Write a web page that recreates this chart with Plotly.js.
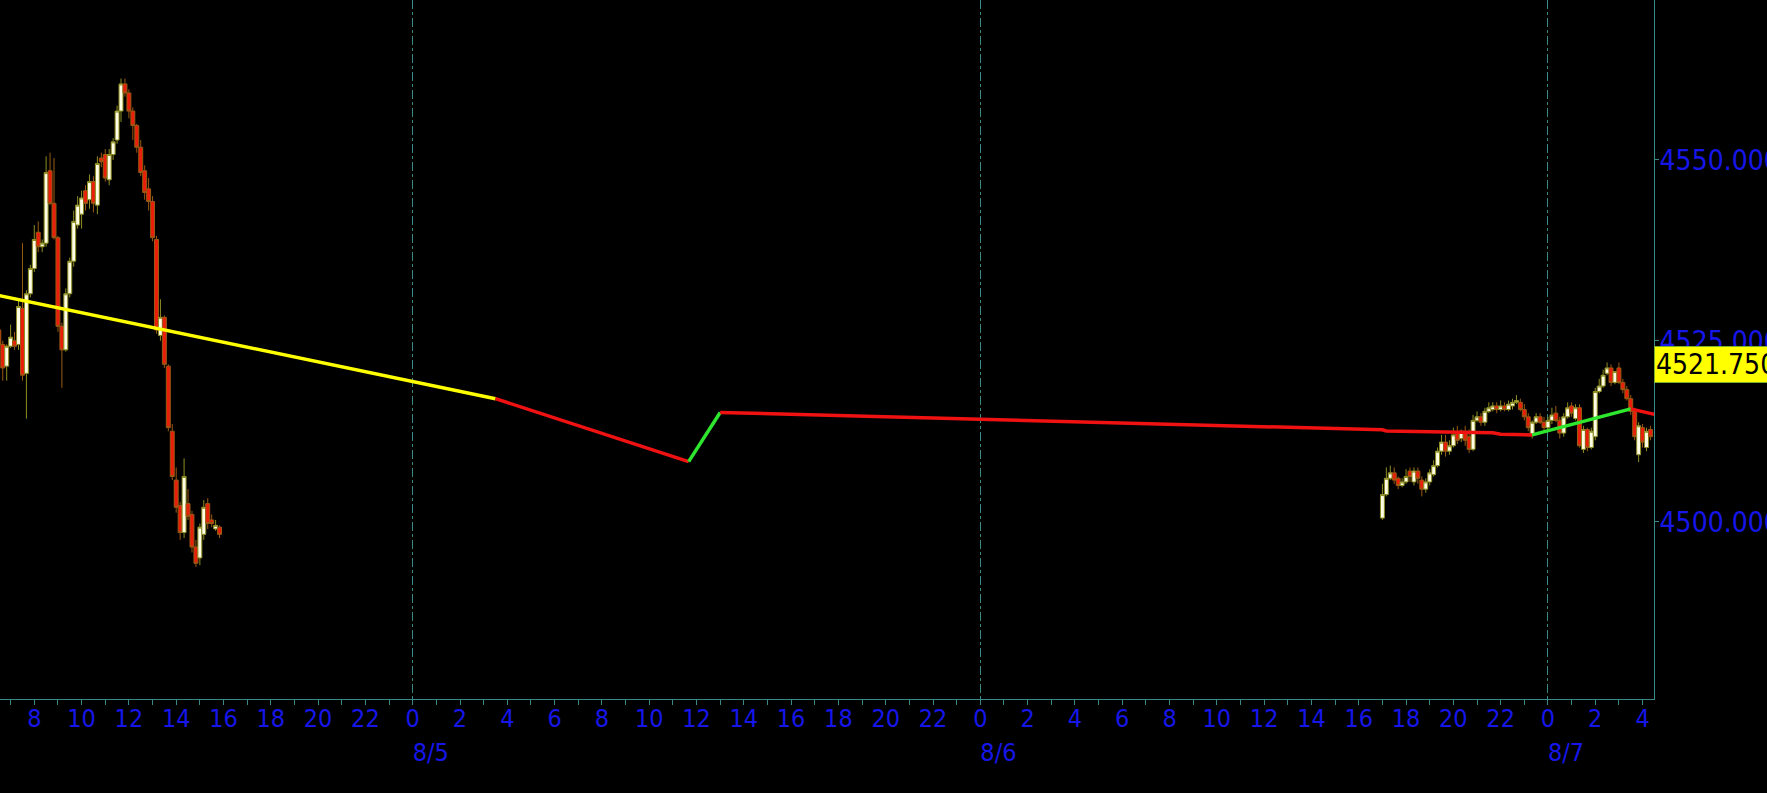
<!DOCTYPE html>
<html><head><meta charset="utf-8">
<script src="https://cdn.plot.ly/plotly-3.0.1.min.js"></script>
<style>html,body{margin:0;padding:0;background:#000;overflow:hidden}#chart{width:1767px;height:793px}</style>
</head><body><div id="chart"></div>
<script>
// ---- 10-minute bars (ES futures), Fri 8/4 day session and Sun 8/6 evening -> Mon 8/7 ----
const barTime = [
'2023-08-04 06:30','2023-08-04 06:40','2023-08-04 06:50','2023-08-04 07:00','2023-08-04 07:10','2023-08-04 07:20','2023-08-04 07:30','2023-08-04 07:40','2023-08-04 07:50',
'2023-08-04 08:00','2023-08-04 08:10','2023-08-04 08:20','2023-08-04 08:30','2023-08-04 08:40','2023-08-04 08:50',
'2023-08-04 09:00','2023-08-04 09:10','2023-08-04 09:20','2023-08-04 09:30','2023-08-04 09:40','2023-08-04 09:50',
'2023-08-04 10:00','2023-08-04 10:10','2023-08-04 10:20','2023-08-04 10:30','2023-08-04 10:40','2023-08-04 10:50',
'2023-08-04 11:00','2023-08-04 11:10','2023-08-04 11:20','2023-08-04 11:30','2023-08-04 11:40','2023-08-04 11:50',
'2023-08-04 12:00','2023-08-04 12:10','2023-08-04 12:20','2023-08-04 12:30','2023-08-04 12:40','2023-08-04 12:50',
'2023-08-04 13:00','2023-08-04 13:10','2023-08-04 13:20','2023-08-04 13:30','2023-08-04 13:40','2023-08-04 13:50',
'2023-08-04 14:00','2023-08-04 14:10','2023-08-04 14:20','2023-08-04 14:30','2023-08-04 14:40','2023-08-04 14:50',
'2023-08-04 15:00','2023-08-04 15:10','2023-08-04 15:20','2023-08-04 15:30','2023-08-04 15:40','2023-08-04 15:50',
'2023-08-06 17:00','2023-08-06 17:10','2023-08-06 17:20','2023-08-06 17:30','2023-08-06 17:40','2023-08-06 17:50',
'2023-08-06 18:00','2023-08-06 18:10','2023-08-06 18:20','2023-08-06 18:30','2023-08-06 18:40','2023-08-06 18:50',
'2023-08-06 19:00','2023-08-06 19:10','2023-08-06 19:20','2023-08-06 19:30','2023-08-06 19:40','2023-08-06 19:50',
'2023-08-06 20:00','2023-08-06 20:10','2023-08-06 20:20','2023-08-06 20:30','2023-08-06 20:40','2023-08-06 20:50',
'2023-08-06 21:00','2023-08-06 21:10','2023-08-06 21:20','2023-08-06 21:30','2023-08-06 21:40','2023-08-06 21:50',
'2023-08-06 22:00','2023-08-06 22:10','2023-08-06 22:20','2023-08-06 22:30','2023-08-06 22:40','2023-08-06 22:50',
'2023-08-06 23:00','2023-08-06 23:10','2023-08-06 23:20','2023-08-06 23:30','2023-08-06 23:40','2023-08-06 23:50',
'2023-08-07 00:00','2023-08-07 00:10','2023-08-07 00:20','2023-08-07 00:30','2023-08-07 00:40','2023-08-07 00:50',
'2023-08-07 01:00','2023-08-07 01:10','2023-08-07 01:20','2023-08-07 01:30','2023-08-07 01:40','2023-08-07 01:50',
'2023-08-07 02:00','2023-08-07 02:10','2023-08-07 02:20','2023-08-07 02:30','2023-08-07 02:40','2023-08-07 02:50',
'2023-08-07 03:00','2023-08-07 03:10','2023-08-07 03:20','2023-08-07 03:30','2023-08-07 03:40','2023-08-07 03:50',
'2023-08-07 04:00','2023-08-07 04:10','2023-08-07 04:20'
];
const barOpen = [
4526.50,4524.50,4521.50,4524.25,4525.00,4524.50,4529.50,4520.50,4531.50,4535.00,4540.00,4538.00,4538.50,4548.50,4544.00,4539.25,4527.00,4523.75,4531.50,4536.00,4541.00,4542.50,4545.75,4544.50,4547.00,4543.75,4550.25,4550.75,4547.25,4550.75,4552.75,4556.75,4560.50,4559.25,4556.75,4554.75,4551.75,4548.50,4546.00,4544.25,4539.00,4525.75,4528.25,4521.50,4512.50,4505.75,4502.25,4498.50,4502.50,4501.00,4496.50,4495.00,4498.25,4502.50,4500.25,4499.00,4499.25,
4500.50,4503.75,4506.00,4506.75,4506.00,4505.00,4505.50,4507.00,4505.50,4507.00,4505.75,4504.50,4505.50,4506.50,4507.75,4509.75,4511.00,4509.75,4510.50,4512.25,4511.50,4512.50,4511.75,4510.00,4514.00,4514.50,4513.75,4515.25,4515.50,4516.00,4515.50,4516.00,4515.50,4516.00,4516.50,4516.50,4515.50,4514.50,4512.00,4513.75,4514.50,4513.75,4513.00,4514.00,4515.00,4514.00,4512.25,4514.50,4516.00,4514.25,4515.75,4510.00,4512.75,4510.25,4511.75,4518.00,4518.75,4520.50,4521.25,4519.25,4521.25,4519.25,4518.25,4517.00,4515.25,4509.25,4513.00,4510.25,4512.75
];
const barHigh = [
4527.25,4525.00,4524.50,4527.25,4526.25,4530.75,4538.50,4532.00,4535.50,4541.00,4541.50,4539.00,4550.50,4551.00,4550.25,4539.50,4527.50,4532.25,4536.50,4543.00,4545.00,4545.75,4546.50,4548.00,4547.75,4550.50,4551.00,4551.50,4551.50,4553.00,4557.50,4561.25,4561.25,4559.75,4557.25,4555.00,4552.75,4549.25,4547.50,4545.00,4539.50,4530.75,4528.50,4521.75,4513.50,4507.50,4502.75,4508.75,4504.50,4501.50,4497.50,4499.75,4503.00,4503.25,4501.00,4500.25,4499.50,
4505.25,4507.50,4507.75,4507.50,4506.25,4506.00,4507.25,4507.50,4507.50,4507.50,4506.25,4506.00,4507.25,4508.50,4510.25,4512.00,4512.00,4511.25,4513.00,4513.25,4512.75,4513.25,4512.75,4514.75,4515.25,4515.00,4515.75,4516.50,4516.50,4516.50,4516.75,4516.50,4516.75,4517.00,4517.50,4517.00,4516.25,4515.00,4514.00,4515.00,4515.00,4514.50,4514.50,4515.75,4516.00,4514.50,4515.00,4516.50,4516.50,4516.25,4516.25,4513.25,4513.00,4513.00,4518.50,4519.75,4521.00,4522.00,4521.75,4520.75,4522.00,4519.75,4518.75,4517.50,4515.75,4513.75,4513.50,4513.00,4513.25
];
const barLow = [
4524.00,4519.50,4519.50,4524.00,4523.75,4523.75,4519.50,4514.25,4531.00,4534.50,4537.25,4537.25,4538.00,4543.75,4539.00,4526.25,4518.50,4523.50,4531.00,4535.25,4540.50,4540.50,4543.00,4543.25,4542.75,4542.50,4549.00,4547.00,4546.50,4550.00,4552.25,4555.25,4558.75,4555.75,4552.75,4551.00,4547.75,4544.50,4543.00,4538.75,4526.00,4525.00,4521.25,4512.50,4505.75,4501.25,4497.50,4497.75,4500.25,4495.75,4493.75,4494.00,4497.50,4499.00,4499.25,4498.75,4497.75,
4500.25,4503.50,4505.75,4505.25,4504.50,4504.75,4505.25,4505.50,4505.00,4505.25,4503.50,4504.00,4505.00,4506.25,4507.50,4509.25,4509.00,4509.25,4510.25,4510.75,4511.00,4510.50,4509.50,4509.75,4513.75,4513.25,4513.25,4515.00,4515.25,4515.00,4515.25,4515.25,4515.25,4515.50,4516.25,4515.25,4514.00,4512.50,4511.50,4513.50,4513.50,4512.50,4512.50,4513.50,4513.75,4511.50,4511.75,4514.25,4514.50,4514.00,4510.25,4509.50,4509.75,4510.00,4511.25,4517.75,4518.50,4520.25,4518.75,4519.00,4519.00,4517.75,4516.75,4514.75,4511.25,4508.25,4510.25,4509.75,4511.25
];
const barClose = [
4524.50,4521.25,4524.25,4525.50,4524.25,4529.75,4520.25,4531.50,4535.00,4539.00,4538.00,4538.50,4548.25,4544.00,4539.25,4527.00,4523.75,4531.50,4536.00,4541.50,4543.75,4544.75,4544.00,4547.00,4544.00,4549.50,4549.75,4547.50,4550.75,4552.50,4556.75,4560.50,4559.25,4556.75,4554.75,4551.75,4548.25,4545.50,4544.25,4539.25,4526.50,4528.25,4521.75,4513.00,4506.25,4502.00,4498.50,4506.25,4500.75,4496.50,4494.25,4499.25,4502.00,4499.75,4499.75,4499.50,4498.25,
4503.75,4506.00,4506.75,4505.75,4505.00,4505.50,4506.25,4506.25,4507.00,4506.00,4504.50,4505.50,4506.75,4507.75,4509.75,4511.00,4509.75,4510.50,4512.00,4511.25,4512.50,4511.25,4510.00,4514.00,4514.50,4513.75,4515.25,4515.75,4516.00,4515.50,4516.00,4515.50,4516.25,4516.50,4516.75,4515.50,4514.50,4513.00,4513.75,4514.50,4513.75,4513.00,4514.00,4514.75,4514.00,4512.25,4514.50,4515.75,4515.00,4515.75,4510.50,4512.75,4510.25,4512.50,4518.00,4518.75,4520.25,4521.25,4519.25,4520.75,4519.25,4518.25,4517.00,4515.25,4511.75,4513.25,4511.00,4512.50,4511.75
];

// ---- trend line (vertices) and the colour of the segment that starts at each vertex ----
const maTime = ['2023-08-04 06:30','2023-08-05 03:30','2023-08-05 11:40','2023-08-05 13:00','2023-08-06 17:00','2023-08-06 17:10','2023-08-06 19:20','2023-08-06 19:40','2023-08-06 21:40','2023-08-06 22:00','2023-08-06 23:20','2023-08-07 03:30','2023-08-07 04:30'];
const maValue = [4531.25,4517.0,4508.3,4515.1,4512.7,4512.55,4512.5,4512.4,4512.3,4512.1,4512.0,4515.6,4514.85];
const maSegColor = ['yellow','red','green','red','red','red','red','red','red','red','green','red'];

// ---- axes ----
const dayTicks = ['2023-08-05 00:00','2023-08-06 00:00','2023-08-07 00:00'];
const dayLabels = ['8/5','8/6','8/7'];
const priceTicks = [4500, 4525, 4550];
const lastPrice = 4521.75;

const TEAL = '#3a8a8a';
const BLUE = '#1616e8';
const FONT = "'DejaVu Sans Condensed', 'DejaVu Sans', sans-serif";
const xRange = ['2023-08-04 06:33','2023-08-07 04:29'];

const traces = [{
  type: 'candlestick', x: barTime, open: barOpen, high: barHigh, low: barLow, close: barClose,
  increasing: {line: {color: '#8e8e22', width: 1}, fillcolor: '#fffde6'},
  decreasing: {line: {color: '#9a5a14', width: 1}, fillcolor: '#ea1e0a'},
  whiskerwidth: 0, hoverinfo: 'skip', showlegend: false
}];

const colorMap = {yellow: '#ffff00', red: '#f01212', green: '#2ee62e'};
let i = 0;
while (i < maSegColor.length) {
  let j = i;
  while (j + 1 < maSegColor.length && maSegColor[j + 1] === maSegColor[i]) j++;
  traces.push({type: 'scatter', mode: 'lines', x: maTime.slice(i, j + 2), y: maValue.slice(i, j + 2),
    line: {color: colorMap[maSegColor[i]], width: 3.5}, hoverinfo: 'skip', showlegend: false});
  i = j + 1;
}
traces.push({type: 'scatter', mode: 'markers', x: dayTicks, y: dayTicks.map(() => null), xaxis: 'x2', yaxis: 'y',
  hoverinfo: 'skip', showlegend: false});

const layout = {
  width: 1767, height: 793,
  margin: {l: 0, r: 113, t: 0, b: 94, pad: 0},
  paper_bgcolor: '#000', plot_bgcolor: '#000',
  showlegend: false, boxgap: 0, boxgroupgap: 0,
  font: {family: FONT, color: BLUE, size: 25},
  xaxis: {
    type: 'date', range: xRange, rangeslider: {visible: false},
    showgrid: false, zeroline: false, showline: true, linecolor: TEAL, linewidth: 1,
    ticks: 'outside', ticklen: 5, tickcolor: TEAL, tickwidth: 1,
    tick0: '2023-08-04 00:00', dtick: 7200000, tickformat: '%-H', ticklabelstandoff: -8,
    tickfont: {family: FONT, size: 25, color: BLUE},
    minor: {dtick: 3600000, ticks: 'outside', ticklen: 5, tickcolor: TEAL, showgrid: false}
  },
  xaxis2: {
    type: 'date', range: xRange, overlaying: 'x', anchor: 'y', side: 'bottom',
    tickvals: dayTicks, ticktext: dayLabels, ticks: '', showline: false, zeroline: false,
    showgrid: true, gridcolor: TEAL, gridwidth: 1, griddash: 'dashdot',
    ticklabelposition: 'outside right', ticklabelstandoff: 36,
    tickfont: {family: FONT, size: 25, color: BLUE}
  },
  yaxis: {
    side: 'right', range: [4475.5, 4572.1], tickvals: priceTicks, tickformat: '.3f',
    ticks: 'outside', ticklen: 4, tickcolor: TEAL, showline: true, linecolor: TEAL, linewidth: 1,
    ticklabelstandoff: -5,
    showgrid: false, zeroline: false, tickfont: {family: FONT, size: 28, color: BLUE}
  },
  annotations: [{
    xref: 'paper', x: 1, xanchor: 'left', yref: 'y', y: lastPrice, yanchor: 'middle',
    text: lastPrice.toFixed(3), showarrow: false, align: 'left', width: 150,
    bgcolor: '#ffff00', bordercolor: '#7fae2a', borderwidth: 1, borderpad: 1,
    font: {family: FONT, size: 28, color: '#000'}
  }]
};

Plotly.newPlot('chart', traces, layout, {staticPlot: true, displayModeBar: false});
</script>
</body></html>
